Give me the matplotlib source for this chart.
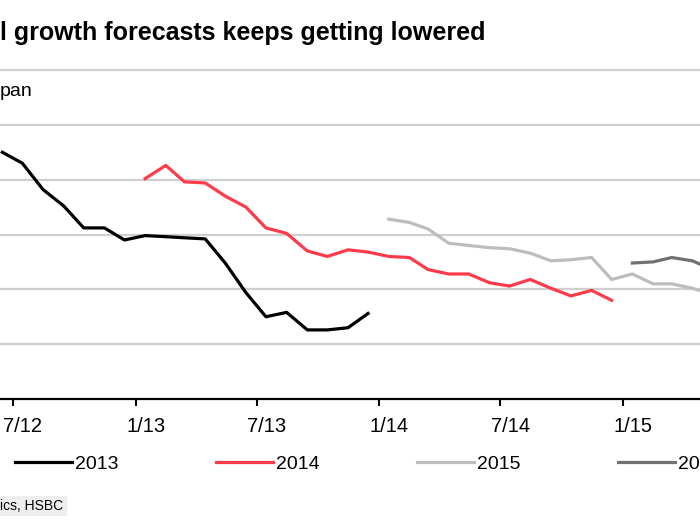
import numpy as np
import pandas as pd
import matplotlib
matplotlib.use('Agg')
import matplotlib.pyplot as plt
import matplotlib.dates as mdates
from matplotlib.transforms import ScaledTranslation

# consensus growth forecasts (%), one reading per month
fc_2013 = [2.25, 2.15, 1.91, 1.76, 1.56, 1.56, 1.45, 1.49, 1.48, 1.47,
           1.46, 1.24, 0.97, 0.75, 0.79, 0.63, 0.63, 0.65, 0.78]
fc_2014 = [2.01, 2.13, 1.98, 1.97, 1.85, 1.75, 1.56, 1.51, 1.35, 1.30,
           1.36, 1.34, 1.30, 1.29, 1.18, 1.14, 1.14, 1.06, 1.03, 1.09,
           1.01, 0.94, 0.99, 0.90]
fc_2015 = [1.64, 1.61, 1.55, 1.42, 1.40, 1.38, 1.37, 1.33, 1.26, 1.27,
           1.29, 1.09, 1.14, 1.05, 1.05, 1.01, 0.95]
fc_2016 = [1.24, 1.25, 1.29, 1.26, 1.18]

start_2013 = '2012-06'
start_2014 = '2013-01'
start_2015 = '2014-01'
start_2016 = '2015-01'

series_names = ['2013', '2014', '2015', '2016']
series_colors = ['#000000', '#ff3b4b', '#bdbdbd', '#717171']

tick_dates = ['2012-07-01', '2013-01-01', '2013-07-01', '2014-01-01', '2014-07-01', '2015-01-01']
tick_labels = ['7/12', '1/13', '7/13', '1/14', '7/14', '1/15']


def months(start, n):
    # readings taken around the middle of each month
    return pd.date_range(start, periods=n, freq='MS') + pd.Timedelta(days=14)


plt.rcParams['font.family'] = ['Liberation Sans', 'DejaVu Sans']

fig = plt.figure(figsize=(7, 5.25), dpi=100)
ax = fig.add_axes([0, 126 / 525, 1, (399 - 70) / 525])

all_series = [(start_2013, fc_2013), (start_2014, fc_2014),
              (start_2015, fc_2015), (start_2016, fc_2016)]
for (start, vals), name, col in zip(all_series, series_names, series_colors):
    ax.plot(months(start, len(vals)), vals, color=col, lw=2.3, label=name)

# chart is cropped on both sides, so the x range runs past the ticks
t0 = mdates.date2num(pd.Timestamp(tick_dates[0]))
t1 = mdates.date2num(pd.Timestamp(tick_dates[-1]))
px_per_day = (623 - 13) / (t1 - t0)
ax.set_xlim(t0 - 13 / px_per_day, t0 + (700 - 13) / px_per_day)
ax.set_ylim(0, 3.0)

ax.set_xticks([mdates.date2num(pd.Timestamp(d)) for d in tick_dates])
ax.set_xticklabels(tick_labels, fontsize=14.5)
ax.tick_params(axis='x', direction='out', length=5, width=1.5, pad=8, color='black')
# labels sit a little to the right of their ticks
shift = ScaledTranslation(10 / 100, 0, fig.dpi_scale_trans)
for lab in ax.get_xticklabels():
    lab.set_transform(lab.get_transform() + shift)

ax.set_yticks(np.arange(0.5, 3.01, 0.5))
ax.tick_params(axis='y', left=False, labelleft=False)
ax.yaxis.grid(True, color='#cfcfcf', lw=1.6)
for gl in ax.get_ygridlines():
    gl.set_clip_on(False)
ax.set_axisbelow(True)

for s in ['top', 'left', 'right']:
    ax.spines[s].set_visible(False)
ax.spines['bottom'].set_linewidth(1.6)

fig.text(0, 1 - 33 / 525, 'l growth forecasts keeps getting lowered',
         fontweight='bold', fontsize=18, va='center', ha='left')
fig.text(0, 1 - 92 / 525, 'pan', fontsize=14, va='center', ha='left')

ax.legend(loc='center left', bbox_to_anchor=(15 / 700, 1 - 464 / 525), bbox_transform=fig.transFigure,
          ncol=4, frameon=False, fontsize=14, handlelength=2.94, handletextpad=0.15,
          columnspacing=5.0, borderpad=0, borderaxespad=0)

fig.text(0, 1 - 506 / 525, 'ics, HSBC', fontsize=10, va='center', ha='left',
         bbox=dict(facecolor='#eeeeee', edgecolor='none', pad=2.5))

fig.savefig('out.png', dpi=100)
